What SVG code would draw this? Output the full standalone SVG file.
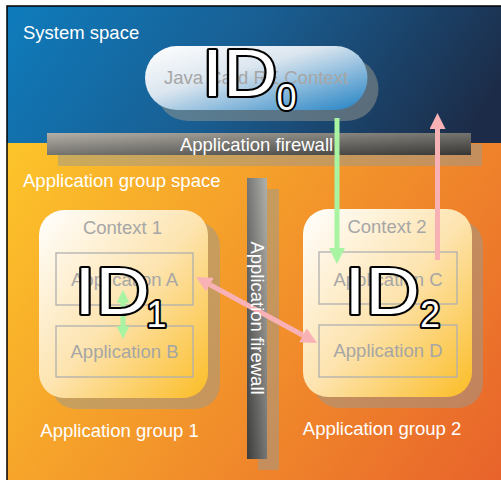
<svg xmlns="http://www.w3.org/2000/svg" width="501" height="480" viewBox="0 0 501 480">
  <defs>
    <style>
      text { font-family: "Liberation Sans", Arial, sans-serif; }
      .lbl { font-size: 18.5px; fill: #ffffff; }
      .inner { font-size: 18.5px; fill: #a6a6a6; text-anchor: middle; }
      .shadow { fill: #9a9a90; opacity: 0.5; }
      .ctx { fill: url(#ctxFill); }
      .app { fill: none; stroke: #b0b0b0; stroke-width: 1.3; }
      .id-big { font-size: 66px; fill: #ffffff; stroke: #000000; stroke-width: 4; paint-order: stroke; stroke-linejoin: round; }
      .id-sub { font-size: 36px; fill: #ffffff; stroke: #000000; stroke-width: 4; paint-order: stroke; stroke-linejoin: round; }
      .green { stroke: #a8f4a2; stroke-width: 5; fill: none; }
      .pink { stroke: #f8b2b6; stroke-width: 5; fill: none; }
    </style>
    <linearGradient id="blueBg" gradientUnits="userSpaceOnUse" x1="0" y1="0" x2="380" y2="260">
      <stop offset="0" stop-color="#0e7dbe"/>
      <stop offset="0.5" stop-color="#195e92"/>
      <stop offset="1" stop-color="#1c2c48"/>
    </linearGradient>
    <linearGradient id="orangeBg" gradientUnits="userSpaceOnUse" x1="7" y1="143" x2="501" y2="480">
      <stop offset="0" stop-color="#fdc52a"/>
      <stop offset="1" stop-color="#e8632b"/>
    </linearGradient>
    <linearGradient id="pillFill" x1="0" y1="0" x2="1" y2="1">
      <stop offset="0" stop-color="#ffffff"/>
      <stop offset="0.4" stop-color="#dce6ef"/>
      <stop offset="1" stop-color="#2282c4"/>
    </linearGradient>
    <linearGradient id="ctxFill" x1="0" y1="0" x2="1" y2="1">
      <stop offset="0" stop-color="#ffffff"/>
      <stop offset="0.5" stop-color="#fde4b0"/>
      <stop offset="1" stop-color="#fbbd26"/>
    </linearGradient>
    <linearGradient id="barH" x1="0" y1="0" x2="1" y2="1">
      <stop offset="0" stop-color="#b4b0a8"/>
      <stop offset="1" stop-color="#363634"/>
    </linearGradient>
    <linearGradient id="barV" x1="0" y1="1" x2="1" y2="0">
      <stop offset="0" stop-color="#3c3c3c"/>
      <stop offset="1" stop-color="#b0b0ac"/>
    </linearGradient>
    <marker id="headGreen" viewBox="0 0 16 16" markerWidth="16" markerHeight="16" markerUnits="userSpaceOnUse" refX="0" refY="8" orient="auto-start-reverse">
      <path d="M0,0 L16,8 L0,16 z" fill="#a8f4a2"/>
    </marker>
    <marker id="headGreenSmall" viewBox="0 0 13 13" markerWidth="13" markerHeight="13" markerUnits="userSpaceOnUse" refX="0" refY="6.5" orient="auto-start-reverse">
      <path d="M0,0 L13,6.5 L0,13 z" fill="#a8f4a2"/>
    </marker>
    <marker id="headPink" viewBox="0 0 16 16" markerWidth="16" markerHeight="16" markerUnits="userSpaceOnUse" refX="0" refY="8" orient="auto-start-reverse">
      <path d="M0,0 L16,8 L0,16 z" fill="#f8b2b6"/>
    </marker>
  </defs>

  <rect x="0" y="0" width="501" height="480" fill="#ffffff"/>

  <!-- upper band: system space -->
  <g id="system-space">
    <rect x="7" y="6" width="494" height="137.5" fill="url(#blueBg)"/>
    <text class="lbl" x="23" y="39">System space</text>
  </g>

  <!-- lower band: application group space -->
  <g id="application-group-space">
    <rect x="7" y="143" width="494" height="337" fill="url(#orangeBg)"/>
    <text class="lbl" x="23" y="187">Application group space</text>
  </g>

  <!-- Java Card RE context pill -->
  <g id="jcre-context">
    <rect class="shadow" x="156" y="57" width="222.5" height="64" rx="32"/>
    <rect x="145" y="46" width="222.5" height="64" rx="32" fill="url(#pillFill)"/>
    <text class="inner" x="256" y="84">Java Card RE Context</text>
  </g>

  <!-- horizontal firewall between the two spaces -->
  <g id="firewall-horizontal">
    <rect class="shadow" x="58" y="144" width="424" height="22"/>
    <rect x="47" y="133" width="424" height="22" fill="url(#barH)"/>
    <text class="lbl" x="256.5" y="150.5" text-anchor="middle">Application firewall</text>
  </g>

  <!-- application group 1 -->
  <g id="context-1">
    <rect class="shadow" x="51" y="221" width="169" height="188" rx="25"/>
    <rect class="ctx" x="39" y="210" width="169" height="188" rx="25"/>
    <text class="inner" x="122.5" y="234">Context 1</text>
    <g id="application-a">
      <rect class="app" x="56" y="253" width="137" height="52"/>
      <text class="inner" x="124.5" y="286">Application A</text>
    </g>
    <g id="application-b">
      <rect class="app" x="56" y="326" width="137" height="51"/>
      <text class="inner" x="124.5" y="357.5">Application B</text>
    </g>
    <text class="lbl" x="119.5" y="437" text-anchor="middle">Application group 1</text>
  </g>

  <!-- application group 2 -->
  <g id="context-2">
    <rect class="shadow" x="314" y="220" width="169" height="188" rx="25"/>
    <rect class="ctx" x="303" y="209" width="169" height="188" rx="25"/>
    <text class="inner" x="387" y="233">Context 2</text>
    <g id="application-c">
      <rect class="app" x="319" y="252" width="138" height="52"/>
      <text class="inner" x="388" y="286">Application C</text>
    </g>
    <g id="application-d">
      <rect class="app" x="319" y="325" width="138" height="52"/>
      <text class="inner" x="388" y="357">Application D</text>
    </g>
    <text class="lbl" x="382" y="435" text-anchor="middle">Application group 2</text>
  </g>

  <!-- vertical firewall between the two groups -->
  <g id="firewall-vertical">
    <rect class="shadow" x="258" y="189" width="21" height="281"/>
    <rect x="247" y="178" width="20" height="281" fill="url(#barV)"/>
  </g>

  <!-- connectors -->
  <g id="connectors">
    <line class="green" x1="337" y1="118" x2="337" y2="248" marker-end="url(#headGreen)"/>
    <line class="pink" x1="437.5" y1="260" x2="437.5" y2="129" marker-end="url(#headPink)"/>
    <line class="green" x1="123" y1="303" x2="123" y2="326" marker-start="url(#headGreenSmall)" marker-end="url(#headGreenSmall)"/>
    <line class="pink" x1="210" y1="284.7" x2="302.9" y2="335.3" marker-start="url(#headPink)" marker-end="url(#headPink)"/>
  </g>

  <g id="firewall-vertical-label">
    <text class="lbl" text-anchor="middle" transform="translate(250.5,318) rotate(90)">Application firewall</text>
  </g>

  <!-- identifier labels -->
  <g id="id-labels">
    <g id="id0">
      <text class="id-big" transform="translate(202,96) scale(1.14,1)">ID</text>
      <text class="id-sub" x="276.5" y="110">0</text>
    </g>
    <g id="id1">
      <text class="id-big" transform="translate(74.5,313.5) scale(1.14,1)">ID</text>
      <text class="id-sub" x="146.5" y="326.5">1</text>
    </g>
    <g id="id2">
      <text class="id-big" transform="translate(344.5,313.5) scale(1.14,1)">ID</text>
      <text class="id-sub" x="420" y="327">2</text>
    </g>
  </g>

  <!-- outer frame -->
  <rect x="7" y="6" width="520" height="500" fill="none" stroke="#000000" stroke-width="1.5"/>
</svg>
